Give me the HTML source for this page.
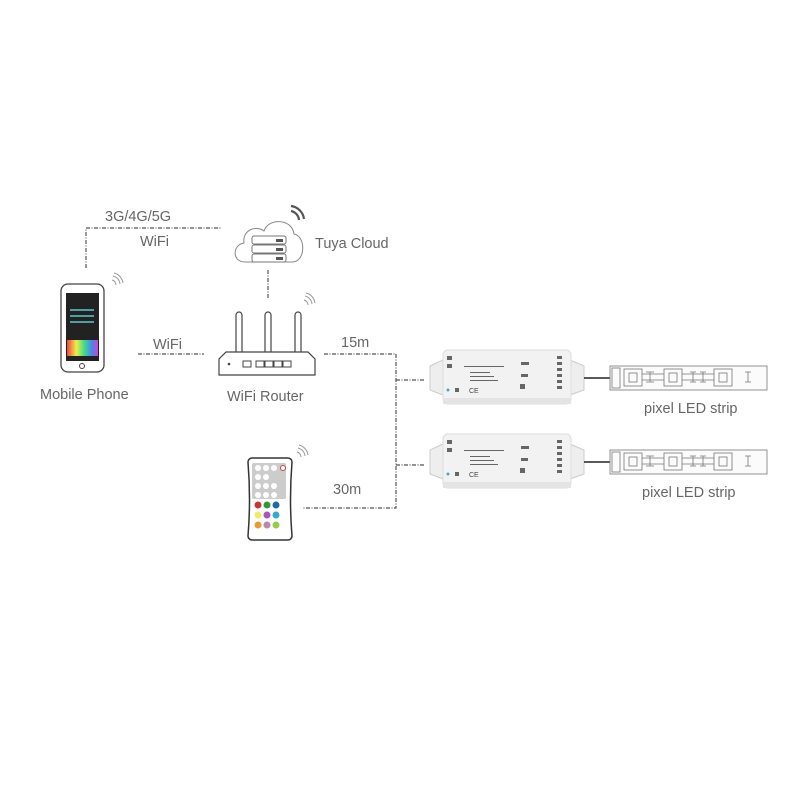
<!DOCTYPE html>
<html><head><meta charset="utf-8"><style>
html,body{margin:0;padding:0;background:#fff;}
svg{display:block;}
text{font-family:"Liberation Sans",sans-serif;fill:#666;}
</style></head><body>
<svg width="800" height="800" viewBox="0 0 800 800" xmlns="http://www.w3.org/2000/svg">
<g stroke="#555" stroke-width="1.2" fill="none" stroke-dasharray="4,1.5,1,1.5">
<polyline points="86,268 86,228 222,228"/>
<line x1="268" y1="270" x2="268" y2="299"/>
<line x1="138" y1="354" x2="204" y2="354"/>
<polyline points="324,354 396,354 396,508 302,508"/>
<line x1="396" y1="380" x2="425" y2="380"/>
<line x1="396" y1="465" x2="425" y2="465"/>
</g>
<g font-size="14.5">
<text x="105" y="221">3G/4G/5G</text>
<text x="140" y="246">WiFi</text>
<text x="315" y="248">Tuya Cloud</text>
<text x="153" y="349">WiFi</text>
<text x="341" y="347">15m</text>
<text x="40" y="399">Mobile Phone</text>
<text x="227" y="401">WiFi Router</text>
<text x="333" y="494">30m</text>
<text x="644" y="413">pixel LED strip</text>
<text x="642" y="497">pixel LED strip</text>
</g>
<!-- cloud -->
<path d="M245,262 C232,262 232,245 244,243 C242,230 256,225 264,231 C268,218 292,218 294,234 C306,236 306,262 292,262 Z" fill="#fff" stroke="#888" stroke-width="1"/>
<g fill="#fff" stroke="#777" stroke-width="1">
<rect x="252" y="236" width="34" height="8" rx="2"/>
<rect x="252" y="245" width="34" height="8" rx="2"/>
<rect x="252" y="254" width="34" height="8" rx="2"/>
</g>
<g fill="#555"><rect x="276" y="239" width="7" height="3"/><rect x="276" y="248" width="7" height="3"/><rect x="276" y="257" width="7" height="3"/></g>
<g fill="none" stroke="#555" stroke-width="2.2"><path d="M291,211 A10,10 0 0 1 299,220"/><path d="M291,206 A15,15 0 0 1 304,219"/></g>
<!-- wifi small icons -->
<g fill="none" stroke="#999" stroke-width="1">
<path d="M112,280 a5,5 0 0 1 4,5 M113,276 a9,9 0 0 1 7,8 M114,273 a12,12 0 0 1 9,10"/>
<path d="M304,300 a5,5 0 0 1 4,5 M305,296 a9,9 0 0 1 7,8 M306,293 a12,12 0 0 1 9,10"/>
<path d="M297,452 a5,5 0 0 1 4,5 M298,448 a9,9 0 0 1 7,8 M299,445 a12,12 0 0 1 9,10"/>
</g>
<!-- phone -->
<rect x="61" y="284" width="43" height="88" rx="7" fill="#fff" stroke="#444" stroke-width="1.3"/>
<rect x="66" y="293" width="33" height="68" fill="#222"/>
<rect x="67" y="340" width="31" height="16" fill="#c9a"/>
<rect x="67" y="340" width="31" height="16" fill="url(#rb)"/>
<defs><linearGradient id="rb"><stop offset="0" stop-color="#e44"/><stop offset=".3" stop-color="#ee4"/><stop offset=".55" stop-color="#4d8"/><stop offset=".8" stop-color="#48e"/><stop offset="1" stop-color="#c4c"/></linearGradient></defs>
<g stroke="#5cc" stroke-width="1.5" fill="none"><path d="M70,310 h24 M70,316 h24 M70,322 h24"/></g>
<circle cx="82" cy="366" r="2.5" fill="none" stroke="#444"/>
<!-- router -->
<g fill="#fff" stroke="#444" stroke-width="1.2">
<rect x="236" y="312" width="6" height="45" rx="3"/>
<rect x="265" y="312" width="6" height="45" rx="3"/>
<rect x="295" y="312" width="6" height="45" rx="3"/>
<path d="M219,375 L219,359 L226,352 L308,352 L315,359 L315,375 Z"/>
</g>
<g fill="none" stroke="#444" stroke-width="1"><rect x="243" y="361" width="8" height="6"/><rect x="256" y="361" width="8" height="6"/><rect x="265" y="361" width="8" height="6"/><rect x="274" y="361" width="8" height="6"/><rect x="283" y="361" width="8" height="6"/></g>
<circle cx="229" cy="364" r="1.3" fill="#444"/>
<!-- controllers -->
<g id="ctl">
<path d="M430,366 L443,360 L443,395 L430,390 Z" fill="#eee" stroke="#ccc"/>
<path d="M570,360 L584,366 L584,390 L570,395 Z" fill="#eee" stroke="#ccc"/>
<rect x="443" y="350" width="128" height="54" rx="5" fill="#f2f2f2" stroke="#ddd"/>
<rect x="443" y="398" width="128" height="6" fill="#e4e4e4"/>
<g fill="#666"><rect x="447" y="356" width="5" height="4"/><rect x="447" y="364" width="5" height="4"/>
<rect x="557" y="356" width="5" height="3"/><rect x="557" y="362" width="5" height="3"/><rect x="557" y="368" width="5" height="3"/><rect x="557" y="374" width="5" height="3"/><rect x="557" y="380" width="5" height="3"/><rect x="557" y="386" width="5" height="3"/>
<rect x="464" y="366" width="40" height="1"/><rect x="470" y="372" width="20" height="1"/><rect x="470" y="376" width="24" height="1"/><rect x="470" y="380" width="28" height="1"/>
<rect x="521" y="362" width="8" height="3"/><rect x="521" y="374" width="7" height="3"/><rect x="520" y="384" width="5" height="5"/><rect x="455" y="388" width="4" height="4"/></g>
<text x="469" y="393" font-size="7" style="fill:#444">CE</text>
<circle cx="448" cy="390" r="1.5" fill="#4ac"/>
</g>
<use href="#ctl" transform="translate(0,84)"/>
<line x1="584" y1="378" x2="610" y2="378" stroke="#222" stroke-width="1.5"/>
<line x1="584" y1="462" x2="610" y2="462" stroke="#222" stroke-width="1.5"/>
<!-- strips -->
<g id="strip" fill="none" stroke="#777" stroke-width="0.8">
<rect x="610" y="366" width="157" height="24" fill="#fbfbfb"/>
<rect x="612" y="368" width="8" height="20"/>
<rect x="624" y="369" width="18" height="17"/><rect x="629" y="373" width="8" height="9"/>
<rect x="664" y="369" width="18" height="17"/><rect x="669" y="373" width="8" height="9"/>
<rect x="714" y="369" width="18" height="17"/><rect x="719" y="373" width="8" height="9"/>
<path d="M646,372 h8 M650,372 v10 M646,382 h8 M690,372 h6 M693,372 v10 M690,382 h6 M700,372 h6 M703,372 v10 M700,382 h6 M745,372 h6 M748,372 v10 M745,382 h6 M642,374 h22 M642,380 h22 M682,374 h32 M682,380 h32"/>
</g>
<use href="#strip" transform="translate(0,84)"/>
<!-- remote -->
<path d="M252,458 h36 a4,4 0 0 1 4,4 q-3,38 0,74 a4,4 0 0 1 -4,4 h-36 a4,4 0 0 1 -4,-4 q3,-36 0,-74 a4,4 0 0 1 4,-4z" fill="#fff" stroke="#333" stroke-width="1.5"/>
<rect x="252" y="463" width="34" height="36" fill="#ccc" rx="2"/>
<g fill="#fff"><circle cx="258" cy="468" r="3"/><circle cx="266" cy="468" r="3"/><circle cx="274" cy="468" r="3"/><circle cx="258" cy="477" r="3"/><circle cx="266" cy="477" r="3"/><circle cx="258" cy="486" r="3"/><circle cx="266" cy="486" r="3"/><circle cx="274" cy="486" r="3"/><circle cx="258" cy="495" r="3"/><circle cx="266" cy="495" r="3"/><circle cx="274" cy="495" r="3"/></g>
<circle cx="283" cy="468" r="2.5" fill="#fff" stroke="#c44"/>
<circle cx="258" cy="505" r="3.5" fill="#c33"/><circle cx="267" cy="505" r="3.5" fill="#393"/><circle cx="276" cy="505" r="3.5" fill="#26a"/>
<circle cx="258" cy="515" r="3.5" fill="#ee6"/><circle cx="267" cy="515" r="3.5" fill="#a5b"/><circle cx="276" cy="515" r="3.5" fill="#3ac"/>
<circle cx="258" cy="525" r="3.5" fill="#e93"/><circle cx="267" cy="525" r="3.5" fill="#b8a"/><circle cx="276" cy="525" r="3.5" fill="#9c4"/>
</svg>
</body></html>
